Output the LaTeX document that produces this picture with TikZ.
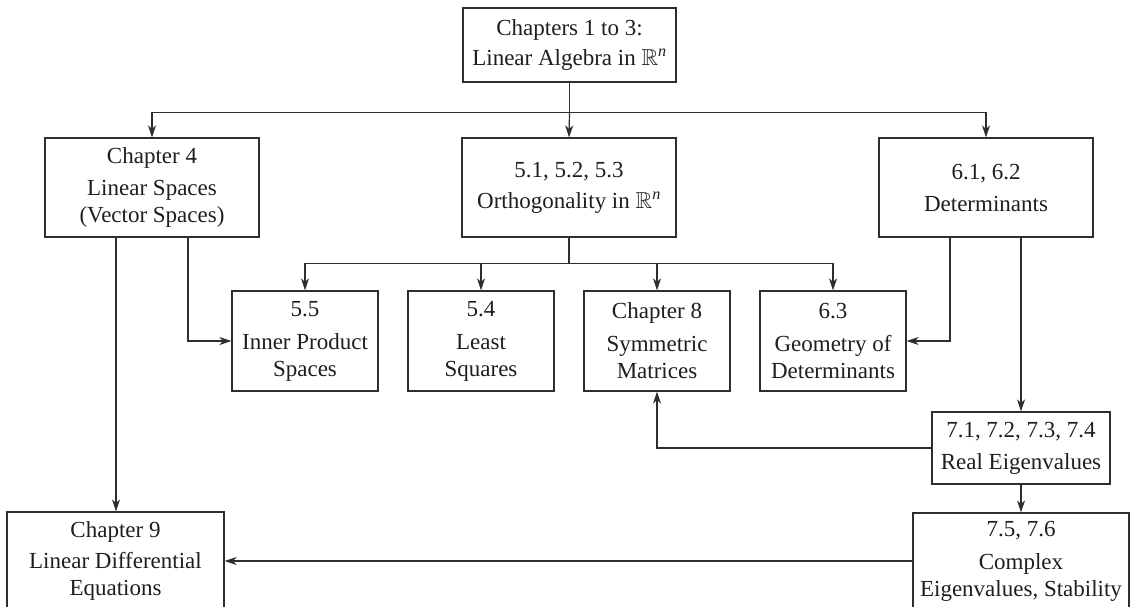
\documentclass[tikz,border=0pt]{standalone}
\usepackage{amsmath,amssymb}
\usepackage{fontspec}
\setmainfont{Liberation Serif}
\usetikzlibrary{arrows.meta}
\definecolor{ln}{HTML}{2E2E2E}
\definecolor{tx}{HTML}{1E1E1E}
\begin{document}
\begin{tikzpicture}[x=1pt,y=-1pt,
  box/.style={draw=ln, line width=1.2pt, rectangle, inner sep=0pt, align=center, text=tx,
    font=\fontsize{23}{27}\selectfont},
  conn/.style={draw=ln, line width=1.2pt},
  arr/.style={conn, -{Stealth[length=12pt,width=8pt,inset=3.5pt]}},
]
\useasboundingbox (0,0) rectangle (1134,606);
\begin{scope}
\clip (0,0) rectangle (1134,606);
\node[box, minimum width=213pt, minimum height=74pt] (top) at (569.5,45)
  {Chapters 1 to 3:\\[3pt] Linear Algebra in $\mathbb{R}^{\textit{n}}$};
\node[box, minimum width=214pt, minimum height=99pt] (ch4) at (152,187.5)
  {Chapter 4\\[5pt] Linear Spaces\\(Vector Spaces)};
\node[box, minimum width=214pt, minimum height=99pt] (orth) at (569,187.5)
  {5.1, 5.2, 5.3\\[4pt] Orthogonality in $\mathbb{R}^{\textit{n}}$};
\node[box, minimum width=214pt, minimum height=99pt] (det) at (986,187.5)
  {6.1, 6.2\\[5pt] Determinants};
\node[box, minimum width=146pt, minimum height=100pt] (ips) at (305,341)
  {5.5\\[6pt] Inner Product\\Spaces};
\node[box, minimum width=146pt, minimum height=100pt] (ls) at (481,341)
  {5.4\\[6pt] Least\\Squares};
\node[box, minimum width=146pt, minimum height=100pt] (sym) at (657,341)
  {Chapter 8\\[6pt] Symmetric\\Matrices};
\node[box, minimum width=146pt, minimum height=100pt] (geo) at (833,341)
  {6.3\\[6pt] Geometry of\\Determinants};
\node[box, minimum width=178pt, minimum height=72pt] (real) at (1021,448)
  {7.1, 7.2, 7.3, 7.4\\[5pt] Real Eigenvalues};
\node[box, minimum width=216pt, minimum height=96pt] (cplx) at (1021,561)
  {7.5, 7.6\\[6pt] Complex\\Eigenvalues, Stability};
\node[box, minimum width=217pt, minimum height=98pt] (ch9) at (115.5,561)
  {Chapter 9\\[4pt] Linear Differential\\Equations};

\draw[conn] (top.south) -- ++(0,30) coordinate (j1);
\draw[arr] (j1) -| (ch4.north);
\draw[arr] (j1) -| (det.north);
\draw[arr] (j1) -- (orth.north);

\draw[conn] (orth.south) -- ++(0,26) coordinate (j2);
\draw[arr] (j2) -| (ips.north);
\draw[arr] (j2) -| (ls.north);
\draw[arr] (j2) -| (sym.north);
\draw[arr] (j2) -| (geo.north);

\draw[arr] ([xshift=36pt]ch4.south) |- (ips.west);
\draw[arr] ([xshift=-36pt]ch4.south) -- ([xshift=-36pt]ch4.south |- ch9.north);
\draw[arr] ([xshift=-36pt]det.south) |- (geo.east);
\draw[arr] ([xshift=35pt]det.south) -- (real.north);
\draw[arr] (real.west) -| (sym.south);
\draw[arr] (real.south) -- (cplx.north);
\draw[arr] (cplx.west) -- (ch9.east);
\end{scope}
\end{tikzpicture}
\end{document}
